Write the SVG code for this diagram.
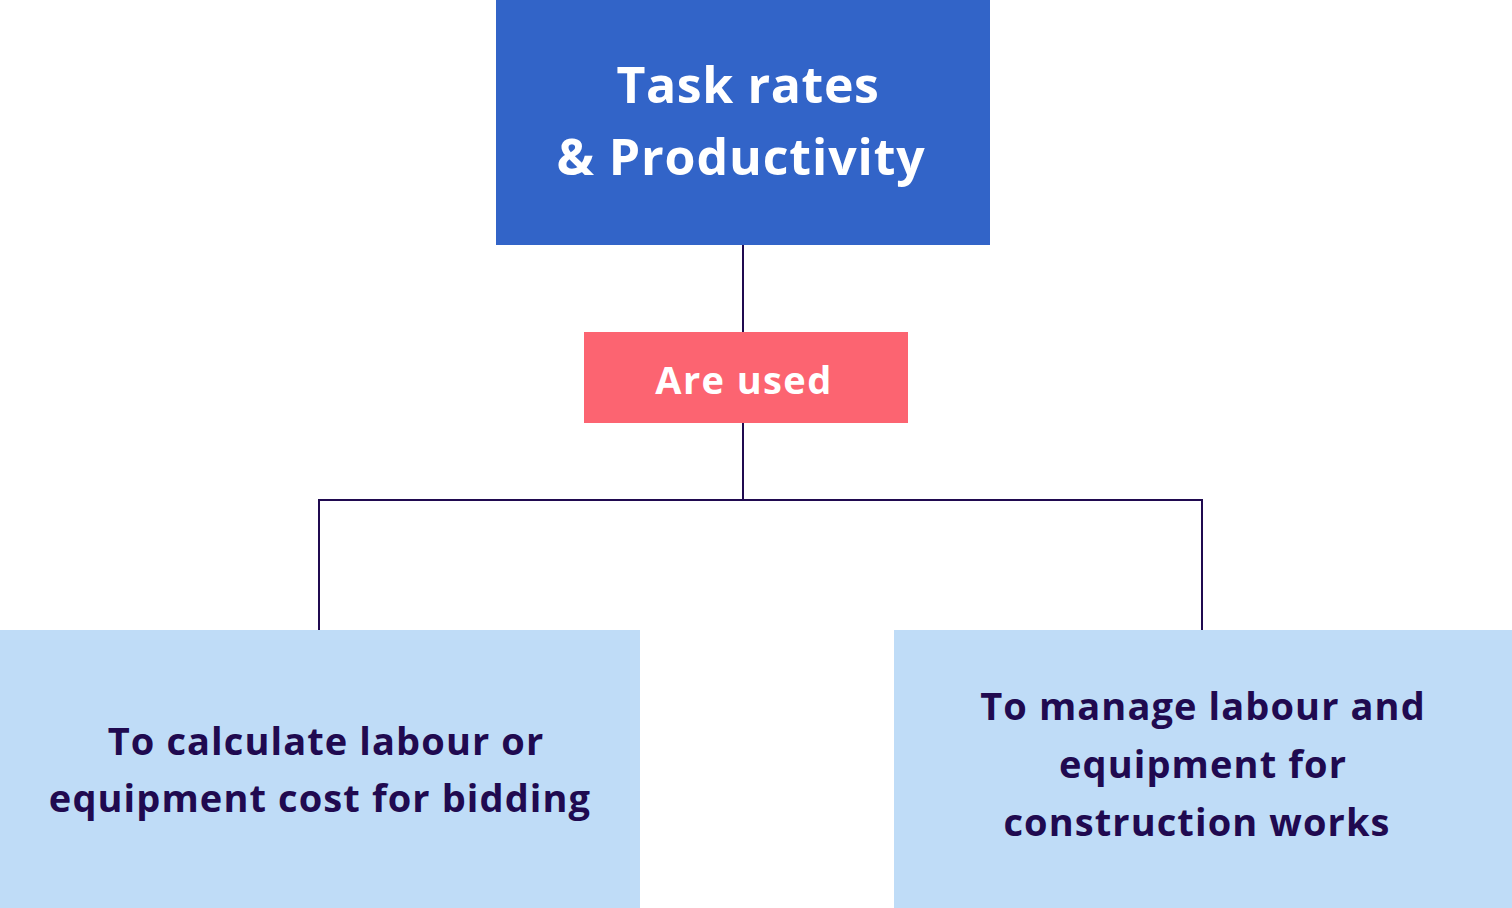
<svg xmlns="http://www.w3.org/2000/svg" width="1512" height="908" viewBox="0 0 1512 908">
<style>
.t{font-family:"Open Sans","Liberation Sans",sans-serif;font-weight:700;text-anchor:middle}
.w{fill:#ffffff}
.d{fill:#200a50;letter-spacing:1.1px}
.c{fill:none;stroke:#200a50;stroke-width:2}
</style>
<rect width="1512" height="908" fill="#ffffff"/>
<g id="connectors">
<path class="c" d="M743 245V332M743 423V500M319 630V500H1202V630"/>
</g>
<g id="top">
<rect x="496" y="0" width="494" height="245" fill="#3264c8"/>
<text class="t w" x="748" y="103" font-size="50" letter-spacing="0.6">Task rates</text>
<text class="t w" x="741" y="175" font-size="50" letter-spacing="0.9">&amp; Productivity</text>
</g>
<g id="used">
<rect x="584" y="332" width="324" height="91" fill="#fc6471"/>
<text class="t w" x="744" y="394" font-size="38" letter-spacing="1.4">Are used</text>
</g>
<g id="left">
<rect x="0" y="630" width="640" height="278" fill="#bfdcf7"/>
<text class="t d" x="326" y="755" font-size="38">To calculate labour or</text>
<text class="t d" x="320" y="812" font-size="38">equipment cost for bidding</text>
</g>
<g id="right">
<rect x="894" y="630" width="618" height="278" fill="#bfdcf7"/>
<text class="t d" x="1203" y="720" font-size="38">To manage labour and</text>
<text class="t d" x="1203" y="778" font-size="38">equipment for</text>
<text class="t d" x="1197" y="836" font-size="38">construction works</text>
</g>
</svg>
